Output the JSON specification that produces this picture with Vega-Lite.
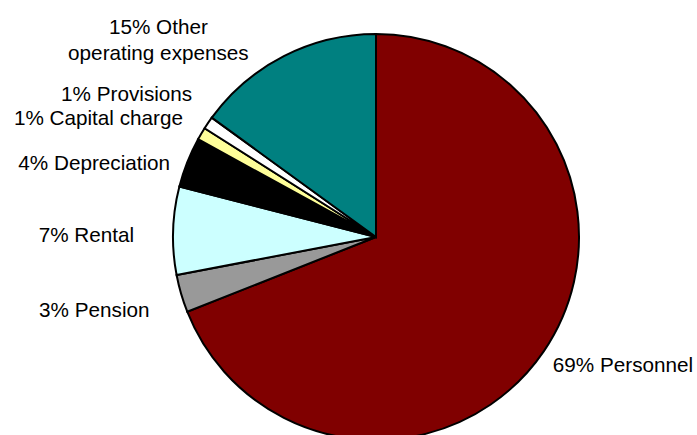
{
  "$schema": "https://vega.github.io/schema/vega-lite/v6.json",
  "width": 642,
  "height": 396,
  "autosize": "none",
  "padding": {"left": 55, "top": 39, "right": 0, "bottom": 0},
  "background": "white",
  "config": {"view": {"stroke": null}, "text": {"font": "Liberation Sans", "fontSize": 20.7, "fill": "#000000"}},
  "data": {"values": [
    {"order": 1, "cat": "Personnel", "value": 69, "label": "69% Personnel"},
    {"order": 2, "cat": "Pension", "value": 3, "label": "3% Pension"},
    {"order": 3, "cat": "Rental", "value": 7, "label": "7% Rental"},
    {"order": 4, "cat": "Depreciation", "value": 4, "label": "4% Depreciation"},
    {"order": 5, "cat": "Capital charge", "value": 1, "label": "1% Capital charge"},
    {"order": 6, "cat": "Provisions", "value": 1, "label": "1% Provisions"},
    {"order": 7, "cat": "Other operating expenses", "value": 15, "label": ["15% Other", "operating expenses"]}
  ]},
  "encoding": {
    "theta": {"field": "value", "type": "quantitative", "stack": true},
    "order": {"field": "order", "type": "quantitative", "sort": "ascending"}
  },
  "layer": [
    {
      "mark": {"type": "arc", "radius": 203, "stroke": "#000000", "strokeWidth": 2},
      "encoding": {
        "color": {"field": "cat", "type": "nominal", "legend": null,
          "scale": {"domain": ["Personnel", "Pension", "Rental", "Depreciation", "Capital charge", "Provisions", "Other operating expenses"],
                    "range": ["#800000", "#999999", "#CCFFFF", "#000000", "#FFFF99", "#FFFFFF", "#008080"]}}
      }
    },
    {
      "mark": {"type": "text", "radius": 215, "align": "left", "baseline": "middle", "dx": -1, "dy": 8},
      "encoding": {"text": {"condition": {"test": "datum.cat === 'Personnel'", "field": "label"}, "value": ""}}
    },
    {
      "mark": {"type": "text", "radius": 215, "align": "right", "baseline": "middle", "dx": -20, "dy": 14},
      "encoding": {"text": {"condition": {"test": "datum.cat === 'Pension'", "field": "label"}, "value": ""}}
    },
    {
      "mark": {"type": "text", "radius": 215, "align": "right", "baseline": "middle", "dx": -27, "dy": 6},
      "encoding": {"text": {"condition": {"test": "datum.cat === 'Rental'", "field": "label"}, "value": ""}}
    },
    {
      "mark": {"type": "text", "radius": 215, "align": "right", "baseline": "middle", "dx": -6, "dy": 6},
      "encoding": {"text": {"condition": {"test": "datum.cat === 'Depreciation'", "field": "label"}, "value": ""}}
    },
    {
      "mark": {"type": "text", "radius": 215, "align": "right", "baseline": "middle", "dx": -8, "dy": -9},
      "encoding": {"text": {"condition": {"test": "datum.cat === 'Capital charge'", "field": "label"}, "value": ""}}
    },
    {
      "mark": {"type": "text", "radius": 215, "align": "right", "baseline": "middle", "dx": -6, "dy": -21},
      "encoding": {"text": {"condition": {"test": "datum.cat === 'Provisions'", "field": "label"}, "value": ""}}
    },
    {
      "mark": {"type": "text", "radius": 215, "align": "center", "baseline": "middle", "dx": -120, "dy": -17, "lineHeight": 26},
      "encoding": {"text": {"condition": {"test": "datum.cat === 'Other operating expenses'", "field": "label"}, "value": ""}}
    }
  ]
}
